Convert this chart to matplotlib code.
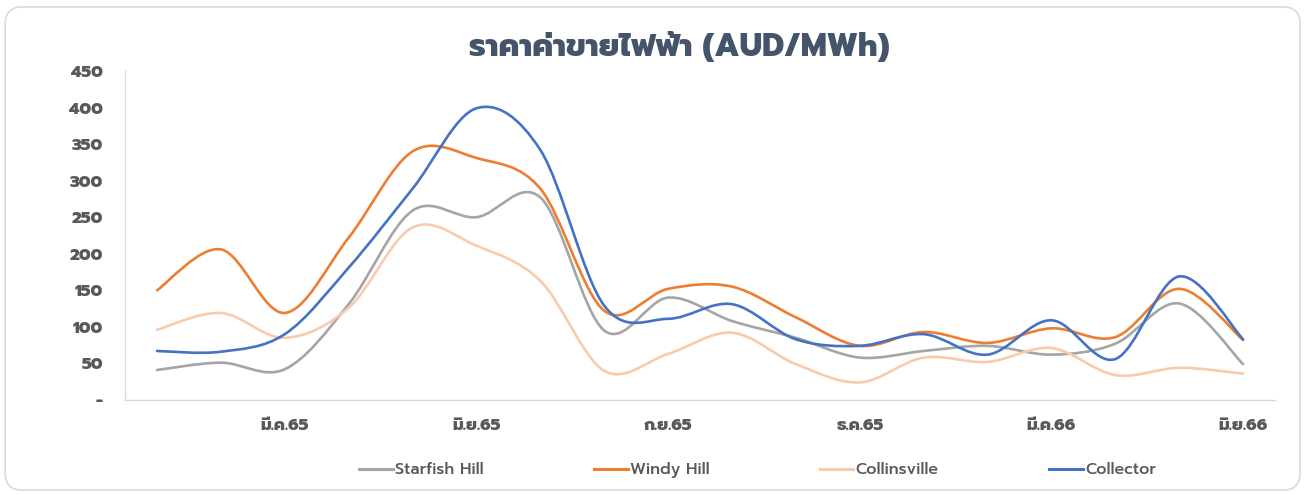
import matplotlib
matplotlib.use("Agg")
import numpy as np
from matplotlib import pyplot as plt
from matplotlib.path import Path
from matplotlib.patches import PathPatch, FancyBboxPatch
from matplotlib.lines import Line2D

plt.rcParams['font.family'] = ['Prompt', 'Kanit', 'DejaVu Sans']

#%% Data (monthly, ม.ค.65 - มิ.ย.66)
months = np.arange(18)
tick_pos = [2, 5, 8, 11, 14, 17]
tick_labels = ['มี.ค.65', 'มิ.ย.65', 'ก.ย.65', 'ธ.ค.65', 'มี.ค.66', 'มิ.ย.66']

starfish = [41, 51, 42, 131, 259, 250, 277, 95, 140, 108, 85, 58, 67, 74, 62, 77, 132, 49]
windy = [150, 206, 119, 222, 340, 331, 289, 122, 152, 155, 113, 74, 93, 78, 98, 86, 152, 82]
collins = [96, 119, 85, 126, 236, 211, 163, 40, 63, 92, 49, 24, 58, 52, 71, 34, 44, 36]
collector = [67, 66, 90, 181, 289, 399, 342, 129, 111, 131, 83, 74, 90, 62, 109, 56, 169, 83]

names = ['Starfish Hill', 'Windy Hill', 'Collinsville', 'Collector']
colors = ['#A5A5A5', '#ED7D31', '#F8CBAD', '#4472C4']
series = [starfish, windy, collins, collector]


def smooth_path(x, y):
    # Excel-like smoothed line : cubic Bezier through every point
    p = np.column_stack([x, y]).astype(float)
    p_ext = np.vstack([p[0], p, p[-1]])
    verts = [p[0]]
    codes = [Path.MOVETO]
    for i in range(len(p) - 1):
        c1 = p_ext[i + 1] + (p_ext[i + 2] - p_ext[i]) / 6
        c2 = p_ext[i + 2] - (p_ext[i + 3] - p_ext[i + 1]) / 6
        verts += [c1, c2, p_ext[i + 2]]
        codes += [Path.CURVE4] * 3
    return Path(verts, codes)


fig = plt.figure(figsize=(13.04, 4.95), dpi=100)
box = FancyBboxPatch((0.004, 0.010), 0.993, 0.976,
                     boxstyle="round,pad=0,rounding_size=0.013",
                     transform=fig.transFigure, facecolor='white',
                     edgecolor='#D9D9D9', linewidth=1.2,
                     mutation_aspect=1304 / 495, zorder=-10)
fig.patches.append(box)
ax = fig.add_axes([0.0959, 0.192, 0.8819, 0.6646])
ax.set_facecolor('none')

for y, c in zip(series, colors):
    ax.add_patch(PathPatch(smooth_path(months, y), facecolor='none',
                           edgecolor=c, linewidth=1.9, capstyle='round'))

ax.set_xlim(-0.5, 17.5)
ax.set_ylim(0, 450)
ax.set_xticks(tick_pos)
ax.set_xticklabels(tick_labels)
ax.set_yticks(np.arange(0, 451, 50))
ax.set_yticklabels(['-'] + [str(v) for v in range(50, 451, 50)])
ax.tick_params(length=0, labelsize=12, labelcolor='#595959')
ax.tick_params(axis='y', pad=16)
ax.tick_params(axis='x', pad=13)
for lab in ax.get_xticklabels() + ax.get_yticklabels():
    lab.set_fontweight(800)

for s in ['top', 'right']:
    ax.spines[s].set_visible(False)
for s in ['left', 'bottom']:
    ax.spines[s].set_color('#D9D9D9')
    ax.spines[s].set_linewidth(1.0)

fig.text(0.521, 0.905, 'ราคาค่าขายไฟฟ้า (AUD/MWh)', ha='center', va='center',
         fontsize=22.5, fontweight=800, color='#44546A')

handles = [Line2D([], [], color=c, linewidth=2.2) for c in colors]
fig.legend(handles, names, loc='center', bbox_to_anchor=(0.581, 0.05), ncol=4,
           frameon=False, prop={'size': 11.5, 'weight': 'medium'},
           labelcolor='#595959', handlelength=2.1,
           handletextpad=0.15, columnspacing=6.9)

fig.savefig('out.png')
